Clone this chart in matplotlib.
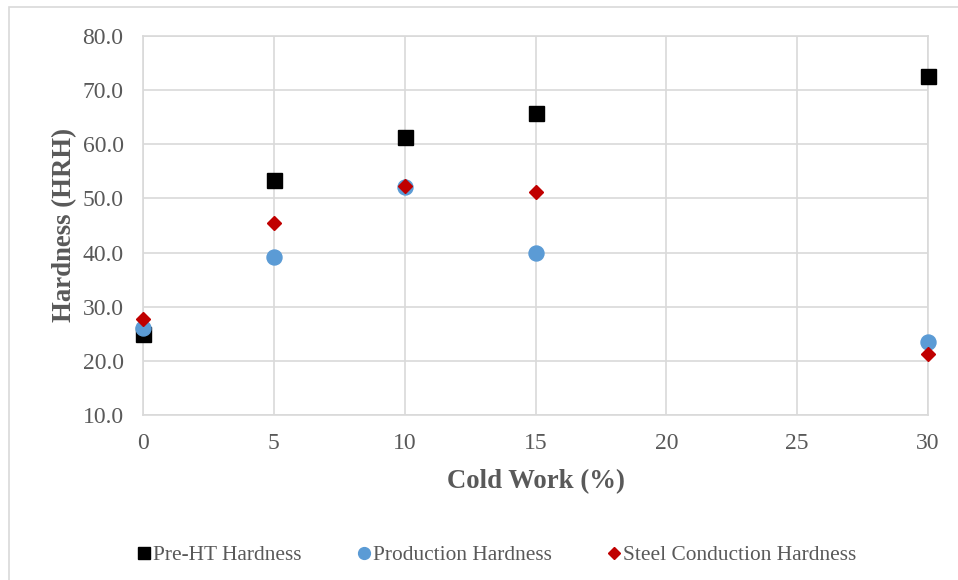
import matplotlib
matplotlib.use("Agg")
import matplotlib.pyplot as plt
from matplotlib.lines import Line2D
from matplotlib.patches import Rectangle

# Hardness measurements versus cold work
cold_work = [0, 5, 10, 15, 30]
pre_ht = [24.9, 53.4, 61.3, 65.8, 72.7]
production = [26.1, 39.1, 52.1, 39.9, 23.4]
steel_conduction = [27.7, 45.5, 52.3, 51.2, 21.3]

series_names = ["Pre-HT Hardness", "Production Hardness", "Steel Conduction Hardness"]
x_ticks = [0, 5, 10, 15, 20, 25, 30]
y_ticks = [10, 20, 30, 40, 50, 60, 70, 80]

TEXT = "#595959"
GRID = "#d9d9d9"
plt.rcParams["font.family"] = ["Liberation Serif", "DejaVu Serif"]

fig = plt.figure(figsize=(9.58, 5.80), dpi=100)
fig.patches.append(Rectangle((9 / 958, -0.1), 1.2, 1 - 7 / 580 + 0.1,
                             transform=fig.transFigure, fill=False,
                             edgecolor=GRID, linewidth=1.2))

ax = fig.add_axes([143 / 958, 1 - 415 / 580, (928 - 143) / 958, (415 - 36) / 580])
ax.set_xlim(0, 30)
ax.set_ylim(10, 80)
ax.set_xticks(x_ticks)
ax.set_yticks(y_ticks)
ax.set_yticklabels([f"{v:.1f}" for v in y_ticks])
ax.grid(True, color=GRID, linewidth=1.2)
ax.set_axisbelow(True)
for s in ax.spines.values():
    s.set_color(GRID)
    s.set_linewidth(1.2)
ax.tick_params(length=0, labelsize=17, labelcolor=TEXT)
ax.tick_params(axis="y", pad=14)
ax.tick_params(axis="x", pad=13)

ax.plot(cold_work, pre_ht, linestyle="none", marker="s", ms=10.8,
        color="#000000", clip_on=False, zorder=3)
ax.plot(cold_work, production, linestyle="none", marker="o", ms=10.8,
        color="#5b9bd5", clip_on=False, zorder=4)
ax.plot(cold_work, steel_conduction, linestyle="none", marker="D", ms=7.6,
        color="#c00000", clip_on=False, zorder=5)

ax.set_xlabel("Cold Work (%)", fontsize=19.3, fontweight="bold", color=TEXT, labelpad=11)
ax.set_ylabel("Hardness (HRH)", fontsize=19.3, fontweight="bold", color=TEXT, labelpad=4)

handles = [
    Line2D([], [], linestyle="none", marker="s", ms=8.5, color="#000000"),
    Line2D([], [], linestyle="none", marker="o", ms=8.5, color="#5b9bd5"),
    Line2D([], [], linestyle="none", marker="D", ms=6.2, color="#c00000"),
]
fig.legend(handles, series_names, loc="center", bbox_to_anchor=(497 / 958, 1 - 555 / 580),
           ncol=3, frameon=False, fontsize=15.4, labelcolor=TEXT,
           handlelength=0.6, handletextpad=0.12, columnspacing=2.6)

fig.savefig("out.png", dpi=100)
